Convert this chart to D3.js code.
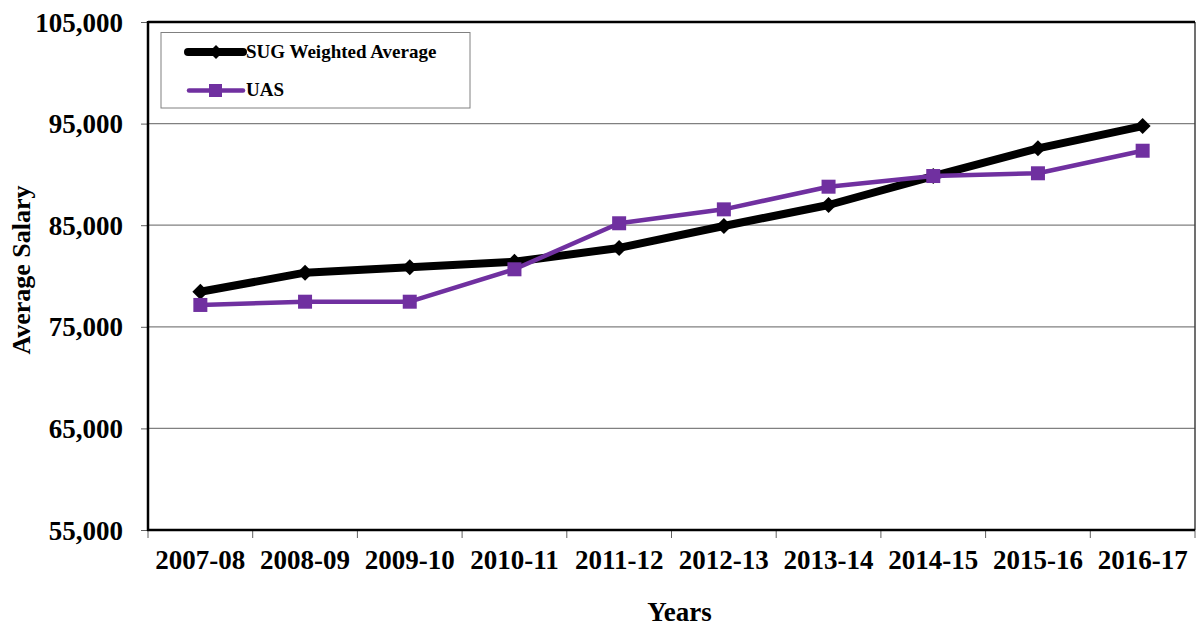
<!DOCTYPE html>
<html>
<head>
<meta charset="utf-8">
<script src="https://cdn.jsdelivr.net/npm/d3@7"></script>
<style>
  html, body { margin: 0; padding: 0; background: #fff; }
  svg { display: block; }
  text { font-family: "Liberation Serif", "Times New Roman", serif; font-weight: bold; fill: #000; }
</style>
</head>
<body>
<svg id="chart" width="1197" height="629"></svg>
<script>
const categories = ["2007-08","2008-09","2009-10","2010-11","2011-12","2012-13","2013-14","2014-15","2015-16","2016-17"];
const sugValues = [78450, 80330, 80860, 81400, 82760, 84920, 86990, 89840, 92570, 94760];
const uasValues = [77150, 77470, 77470, 80660, 85190, 86560, 88790, 89840, 90110, 92330];
const yTicks = [55000, 65000, 75000, 85000, 95000, 105000];
const seriesNames = ["SUG Weighted Average", "UAS"];
const xTitle = "Years";
const yTitle = "Average Salary";

const svg = d3.select("#chart");
const W = 1197, H = 629;
const m = { left: 148, top: 22, right: 2, bottom: 99 };
const pw = W - m.left - m.right, ph = H - m.top - m.bottom;

const x = d3.scaleBand().domain(categories).range([m.left, m.left + pw]);
const y = d3.scaleLinear().domain([55000, 105000]).range([m.top + ph, m.top]);
const fmt = d3.format(",");

const g = svg.append("g");

// gridlines
g.selectAll("line.grid").data(yTicks.filter(v => v > 55000 && v < 105000)).join("line")
  .attr("x1", m.left).attr("x2", m.left + pw)
  .attr("y1", d => y(d)).attr("y2", d => y(d))
  .attr("stroke", "#808080").attr("stroke-width", 1.2);

// right border
g.append("line").attr("x1", m.left + pw).attr("x2", m.left + pw)
  .attr("y1", y(105000)).attr("y2", y(55000))
  .attr("stroke", "#404040").attr("stroke-width", 1.5);
// top border
g.append("line").attr("x1", m.left).attr("x2", m.left + pw)
  .attr("y1", y(105000)).attr("y2", y(105000))
  .attr("stroke", "#000").attr("stroke-width", 2.5);

// y axis
const yAxis = d3.axisLeft(y).tickValues(yTicks).tickFormat(fmt).tickSize(7).tickPadding(18);
const ya = g.append("g").attr("transform", `translate(${m.left},0)`).call(yAxis);
ya.select(".domain").remove();
ya.selectAll(".tick line").attr("stroke", "#606060").attr("stroke-width", 1);
ya.selectAll(".tick text").style("font-size", "27px").style("font-family", "'Liberation Serif', serif").style("font-weight", "bold").attr("dy", "0.34em");
g.append("line").attr("x1", m.left).attr("x2", m.left).attr("y1", y(105000) - 1).attr("y2", y(55000) + 1)
  .attr("stroke", "#000").attr("stroke-width", 2.5);

// x axis
const xAxis = d3.axisBottom(x).tickSize(0).tickPadding(20);
const xa = g.append("g").attr("transform", `translate(0,${y(55000)})`).call(xAxis);
xa.select(".domain").remove();
xa.selectAll(".tick text").style("font-size", "27px").style("font-family", "'Liberation Serif', serif").style("font-weight", "bold").attr("dy", "0.71em");
// boundary ticks
const bounds = categories.map(c => x(c)).concat([x(categories[categories.length - 1]) + x.bandwidth()]);
g.selectAll("line.xt").data(bounds).join("line")
  .attr("x1", d => d).attr("x2", d => d)
  .attr("y1", y(55000)).attr("y2", y(55000) + 8)
  .attr("stroke", "#606060").attr("stroke-width", 1);
g.append("line").attr("x1", m.left - 1).attr("x2", m.left + pw).attr("y1", y(55000)).attr("y2", y(55000))
  .attr("stroke", "#000").attr("stroke-width", 2.5);

// axis titles
g.append("text").attr("x", (m.left + m.left + pw) / 2 + 8).attr("y", 621)
  .attr("text-anchor", "middle").style("font-size", "27px").text(xTitle);
g.append("text").attr("transform", `translate(30,270) rotate(-90)`)
  .attr("text-anchor", "middle").style("font-size", "26px").text(yTitle);

const cx = d => x(d) + x.bandwidth() / 2;
const line = d3.line().x(d => cx(d.c)).y(d => y(d.v));
const sugData = categories.map((c, i) => ({ c, v: sugValues[i] }));
const uasData = categories.map((c, i) => ({ c, v: uasValues[i] }));

// SUG line
g.append("path").datum(sugData).attr("d", line).attr("fill", "none")
  .attr("stroke", "#000").attr("stroke-width", 8).attr("stroke-linejoin", "round").attr("stroke-linecap", "round");
const diamond = s => `M0,${-s} L${s},0 L0,${s} L${-s},0 Z`;
g.selectAll("path.dm").data(sugData).join("path")
  .attr("d", diamond(8)).attr("transform", d => `translate(${cx(d.c)},${y(d.v)})`).attr("fill", "#000");

// UAS line
const purple = "#7030A0";
g.append("path").datum(uasData).attr("d", line).attr("fill", "none")
  .attr("stroke", purple).attr("stroke-width", 4.5).attr("stroke-linejoin", "round");
g.selectAll("rect.sq").data(uasData).join("rect")
  .attr("x", d => cx(d.c) - 7).attr("y", d => y(d.v) - 7).attr("width", 14).attr("height", 14)
  .attr("fill", purple);

// legend
const lg = g.append("g");
lg.append("rect").attr("x", 161).attr("y", 32.5).attr("width", 309).attr("height", 75.5)
  .attr("fill", "#fff").attr("stroke", "#808080").attr("stroke-width", 1);
lg.append("line").attr("x1", 188).attr("x2", 243).attr("y1", 52).attr("y2", 52)
  .attr("stroke", "#000").attr("stroke-width", 8).attr("stroke-linecap", "round");
lg.append("path").attr("d", diamond(7)).attr("transform", "translate(216,52)").attr("fill", "#000");
lg.append("text").attr("x", 246).attr("y", 58).style("font-size", "19px").text(seriesNames[0]);
lg.append("line").attr("x1", 189).attr("x2", 243).attr("y1", 90.5).attr("y2", 90.5)
  .attr("stroke", purple).attr("stroke-width", 4.5).attr("stroke-linecap", "round");
lg.append("rect").attr("x", 209).attr("y", 84).attr("width", 13).attr("height", 13).attr("fill", purple);
lg.append("text").attr("x", 246).attr("y", 96).style("font-size", "19px").text(seriesNames[1]);
</script>
</body>
</html>
